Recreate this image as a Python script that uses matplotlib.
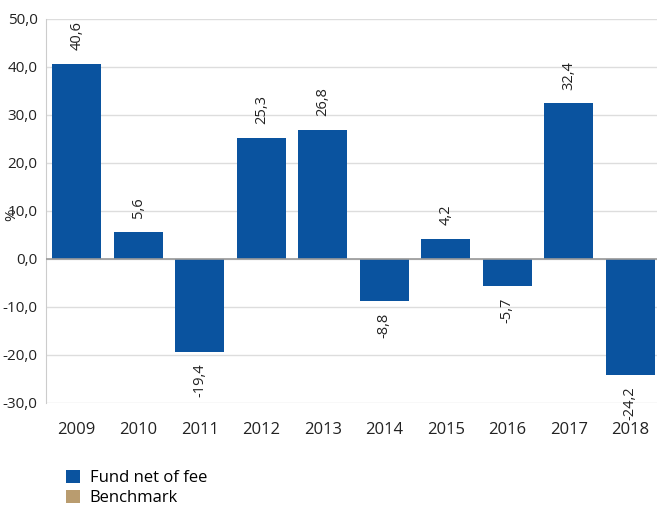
import matplotlib
matplotlib.use("Agg")
import matplotlib.pyplot as plt
from matplotlib.patches import Patch

years = ["2009", "2010", "2011", "2012", "2013", "2014", "2015", "2016", "2017", "2018"]
fund = [40.6, 5.6, -19.4, 25.3, 26.8, -8.8, 4.2, -5.7, 32.4, -24.2]
yticks = [-30, -20, -10, 0, 10, 20, 30, 40, 50]
series_names = ["Fund net of fee", "Benchmark"]

blue = "#0a539f"
tan = "#b99c6f"

plt.rcParams['font.family'] = ['Open Sans', 'DejaVu Sans']

fig = plt.figure(figsize=(6.57, 5.07), dpi=100)
W, H = 657, 507
ax = fig.add_axes([46 / W, 1 - 403 / H, (661 - 46) / W, (403 - 19) / H])

x = list(range(len(years)))
ax.bar(x, fund, width=0.8, color=blue, zorder=3)
ax.set_xlim(-0.5, 9.5)
ax.set_ylim(-30, 50)
ax.set_yticks(yticks)
ax.set_yticklabels([f"{v:.1f}".replace(".", ",") for v in yticks], fontsize=11, color="#222222")
ax.set_xticks(x)
ax.set_xticklabels(years, fontsize=12, color="#222222")
ax.tick_params(axis="both", length=0)
ax.tick_params(axis="x", pad=14)
ax.tick_params(axis="y", pad=6)
ax.grid(axis="y", color="#dddddd", linewidth=1, zorder=0)
ax.axhline(0, color="#999999", linewidth=1.2, zorder=4)
for s in ["top", "right", "bottom"]:
    ax.spines[s].set_visible(False)
ax.spines["left"].set_color("#cccccc")

for xi, v in zip(x, fund):
    lab = f"{v:.1f}".replace(".", ",")
    if v >= 0:
        ax.annotate(lab, (xi, v), xytext=(0, 10), textcoords="offset points",
                    rotation=90, ha="center", va="bottom", fontsize=10.5, color="#222222")
    else:
        ax.annotate(lab, (xi, v), xytext=(0, -8), textcoords="offset points",
                    rotation=90, ha="center", va="top", fontsize=10.5, color="#222222")

fig.text(12 / W, 1 - 215 / H, "%", rotation=90, ha="center", va="center", fontsize=11, color="#222222")

handles = [Patch(facecolor=blue, edgecolor="none"), Patch(facecolor=tan, edgecolor="none")]
fig.legend(handles, series_names, loc="upper left", bbox_to_anchor=(58 / W, 1 - 462 / H),
           frameon=False, fontsize=12, handlelength=0.8, handleheight=0.8,
           handletextpad=0.6, labelspacing=0.2, borderpad=0)

fig.savefig("out.png", dpi=100)
